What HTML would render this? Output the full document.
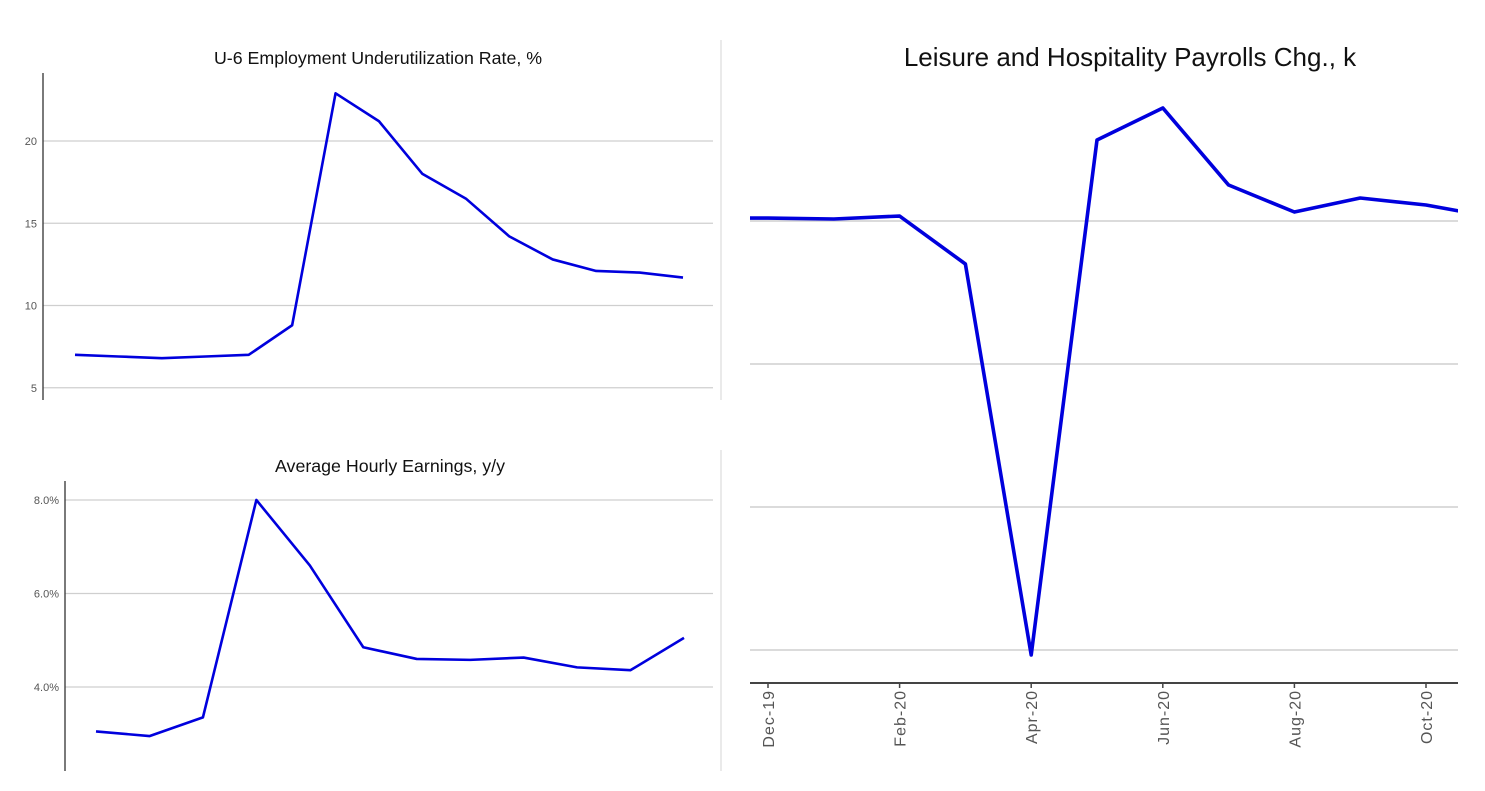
<!DOCTYPE html>
<html><head><meta charset="utf-8"><style>
html,body{margin:0;padding:0;background:#fff;}
svg{display:block;font-family:"Liberation Sans",Arial,sans-serif;}
</style></head><body>
<svg id="root" width="1485" height="791" viewBox="0 0 1485 791">
<line x1="721" y1="40" x2="721" y2="400" stroke="#e4e4e4" stroke-width="1.5"/>
<line x1="721" y1="450" x2="721" y2="771" stroke="#e4e4e4" stroke-width="1.5"/>
<g id="u6">
<text x="378" y="64" text-anchor="middle" font-size="17.8" fill="#111">U-6 Employment Underutilization Rate, %</text>
</g>
<g id="ahe">
<text x="390" y="472" text-anchor="middle" font-size="17.8" fill="#111">Average Hourly Earnings, y/y</text>
</g>
<g id="lh">
<text x="1130" y="66" text-anchor="middle" font-size="26" fill="#111">Leisure and Hospitality Payrolls Chg., k</text>
</g>
<defs><clipPath id="lhclip"><rect x="750" y="60" width="708" height="630"/></clipPath></defs>
</svg>
<script>
const u6Values=[7.0,6.9,6.8,6.9,7.0,8.8,22.9,21.2,18.0,16.5,14.2,12.8,12.1,12.0,11.7];
const u6Ticks=[5,10,15,20];
const aheValues=[3.05,2.95,3.35,8.0,6.6,4.85,4.6,4.58,4.63,4.42,4.36,5.05];
const aheTicks=[4,6,8];
const aheTickLabels=["4.0%","6.0%","8.0%"];
const lhMonths=["Nov-19","Dec-19","Jan-20","Feb-20","Mar-20","Apr-20","May-20","Jun-20","Jul-20","Aug-20","Sep-20","Oct-20","Nov-20"];
const lhValues=[50,52,35,87,-752,-7587,1416,1976,629,157,402,280,70];
const lhTicks=[0,-2500,-5000,-7500];
const lhLabelMonths=["Dec-19","Feb-20","Apr-20","Jun-20","Aug-20","Oct-20"];

const NS="http://www.w3.org/2000/svg";
function mk(parent,tag,attrs){const e=document.createElementNS(NS,tag);for(const k in attrs)e.setAttribute(k,attrs[k]);parent.appendChild(e);return e;}

// U6
(function(){
const g=document.getElementById('u6');
const y=v=>141+(20-v)*16.45;
const x=i=>75+i*(608/(u6Values.length-1));
u6Ticks.forEach(t=>{
const l=mk(g,'line',{x1:43,x2:713,y1:y(t),y2:y(t),stroke:'#cfcfcf','stroke-width':1.3});


const tx=mk(g,'text',{x:37,y:y(t)+4,'text-anchor':'end','font-size':11,fill:'#555'});tx.textContent=t;


});
const ax=mk(g,'line',{x1:43,x2:43,y1:73,y2:400,stroke:'#333','stroke-width':1.3});


const p=mk(g,'polyline',{points:u6Values.map((v,i)=>x(i)+','+y(v)).join(' '),fill:'none',stroke:'#0000dd','stroke-width':2.6,'stroke-linejoin':'round'});


})();

// AHE
(function(){
const g=document.getElementById('ahe');
const y=v=>687-(v-4)*46.75;
const x=i=>96+i*(588/(aheValues.length-1));
aheTicks.forEach((t,i)=>{
const l=mk(g,'line',{x1:65,x2:713,y1:y(t),y2:y(t),stroke:'#cfcfcf','stroke-width':1.3});


const tx=mk(g,'text',{x:59,y:y(t)+4,'text-anchor':'end','font-size':11,fill:'#555'});tx.textContent=aheTickLabels[i];


});
const ax=mk(g,'line',{x1:65,x2:65,y1:481,y2:771,stroke:'#333','stroke-width':1.3});


const p=mk(g,'polyline',{points:aheValues.map((v,i)=>x(i)+','+y(v)).join(' '),fill:'none',stroke:'#0000dd','stroke-width':2.6,'stroke-linejoin':'round'});


})();

// L&H
(function(){
const g=document.getElementById('lh');
const y=v=>221-v*(143/2500);
const step=65.8;
const x=i=>768+(i-1)*step;
lhTicks.forEach(t=>{
const l=mk(g,'line',{x1:750,x2:1458,y1:y(t),y2:y(t),stroke:'#cfcfcf','stroke-width':1.5});


});
const ax=mk(g,'line',{x1:750,x2:1458,y1:683,y2:683,stroke:'#444','stroke-width':2});


lhLabelMonths.forEach(m=>{
const i=lhMonths.indexOf(m);const xx=x(i);
const tk=mk(g,'line',{x1:xx,x2:xx,y1:683,y2:688,stroke:'#444','stroke-width':1.5});


const tx=mk(g,'text',{x:0,y:0,'text-anchor':'end','font-size':16,'letter-spacing':1,fill:'#555',transform:`translate(${xx+6},690) rotate(-90)`});tx.textContent=m;


});
const p=mk(g,'polyline',{points:lhValues.map((v,i)=>x(i)+','+y(v)).join(' '),fill:'none',stroke:'#0000dd','stroke-width':3.6,'stroke-linejoin':'round','clip-path':'url(#lhclip)'});


})();
</script>
</body></html>
